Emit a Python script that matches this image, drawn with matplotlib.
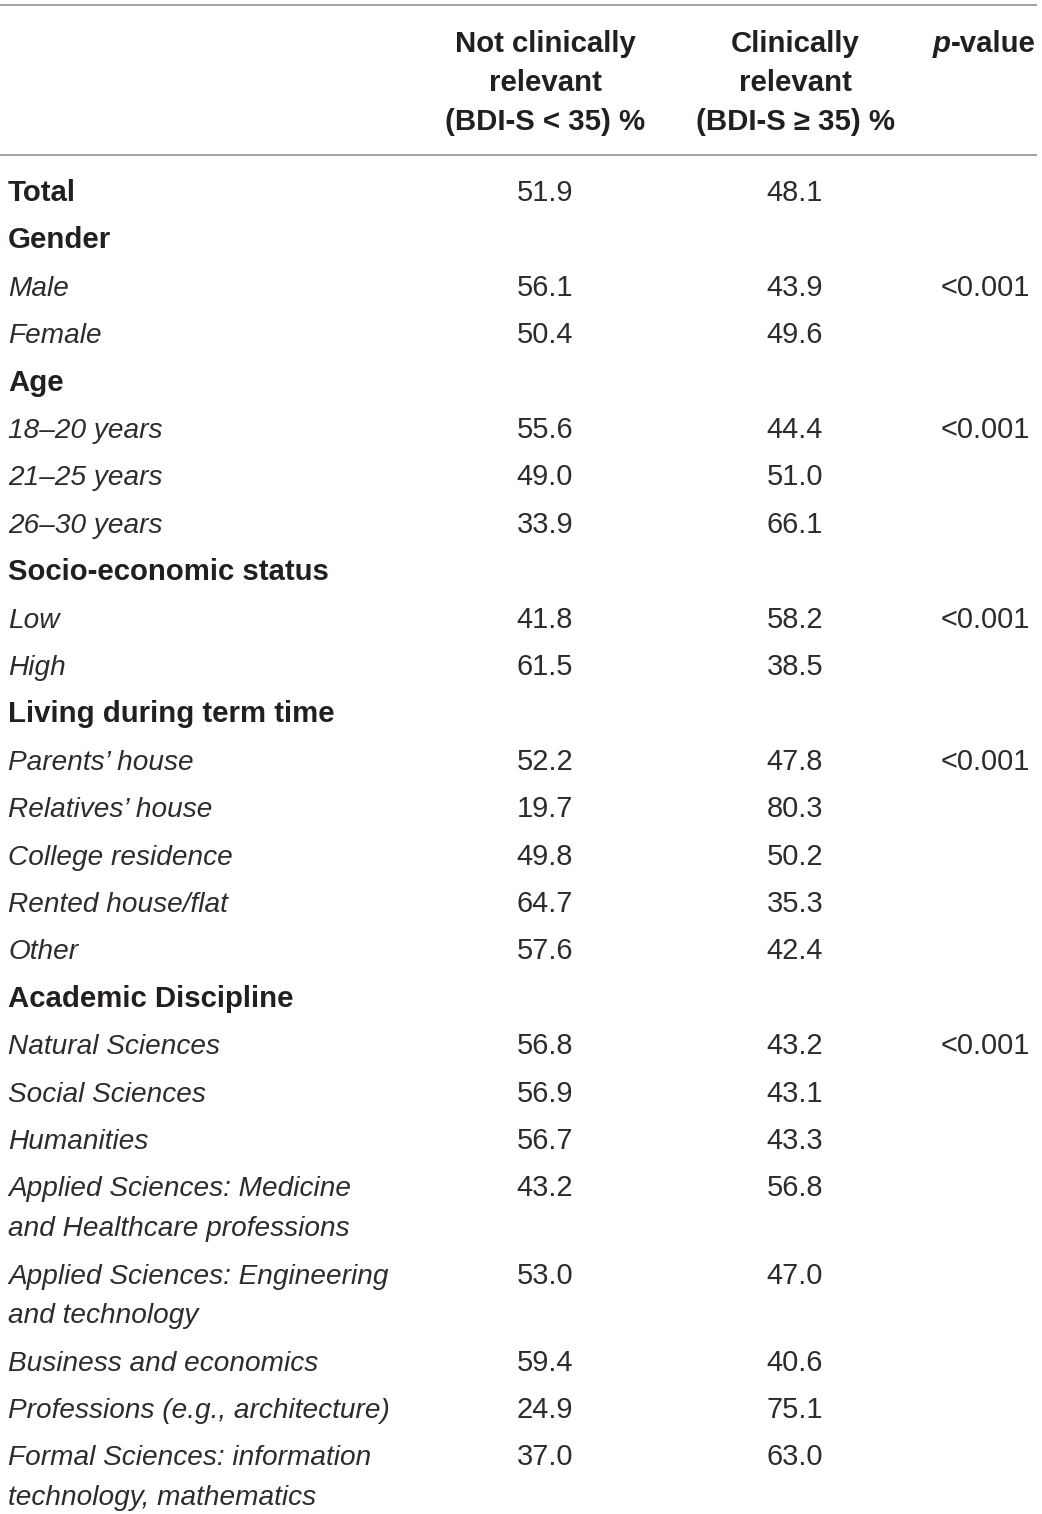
import matplotlib
matplotlib.use("Agg")
import matplotlib.pyplot as plt

# ---- data ----
row_labels = [
    "Total", "Gender", "Male", "Female", "Age", "18–20 years", "21–25 years",
    "26–30 years", "Socio-economic status", "Low", "High",
    "Living during term time", "Parents’ house", "Relatives’ house",
    "College residence", "Rented house/flat", "Other", "Academic Discipline",
    "Natural Sciences", "Social Sciences", "Humanities",
    "Applied Sciences: Medicine\nand Healthcare professions",
    "Applied Sciences: Engineering\nand technology",
    "Business and economics", "Professions (e.g., architecture)",
    "Formal Sciences: information\ntechnology, mathematics",
]
row_kind = [
    "bold", "bold", "it", "it", "bold", "it", "it", "it", "bold", "it", "it",
    "bold", "it", "it", "it", "it", "it", "bold", "it", "it", "it", "it", "it",
    "it", "it", "it",
]
not_clinical = [
    "51.9", "", "56.1", "50.4", "", "55.6", "49.0", "33.9", "", "41.8", "61.5",
    "", "52.2", "19.7", "49.8", "64.7", "57.6", "", "56.8", "56.9", "56.7",
    "43.2", "53.0", "59.4", "24.9", "37.0",
]
clinical = [
    "48.1", "", "43.9", "49.6", "", "44.4", "51.0", "66.1", "", "58.2", "38.5",
    "", "47.8", "80.3", "50.2", "35.3", "42.4", "", "43.2", "43.1", "43.3",
    "56.8", "47.0", "40.6", "75.1", "63.0",
]
p_values = [
    "", "", "<0.001", "", "", "<0.001", "", "", "", "<0.001", "",
    "", "<0.001", "", "", "", "", "", "<0.001", "", "", "", "", "", "", "",
]
header_col1 = ["Not clinically", "relevant", "(BDI-S < 35) %"]
header_col2 = ["Clinically", "relevant", "(BDI-S ≥ 35) %"]

# ---- layout ----
W, H = 1042, 1514
fig = plt.figure(figsize=(W / 100, H / 100), dpi=100)
ax = fig.add_axes([0, 0, 1, 1])
ax.set_xlim(0, W)
ax.set_ylim(H, 0)
ax.axis("off")

FAM = ["Liberation Sans", "DejaVu Sans"]
FS_B = 21.2
FS_N = 20.9
FS_I = 20.2
TXT = "#231f20"
TXT_L = "#2e2b2c"
LINE = "#9a9a9a"

x_lab = 8
x_c1 = 545
x_c2 = 795
x_p = 1030

ax.plot([0, 1037], [5, 5], color=LINE, lw=1.3, solid_capstyle="butt")
ax.plot([0, 1037], [155, 155], color=LINE, lw=1.3, solid_capstyle="butt")

hdr_base = [52, 91, 130]
for i in range(3):
    ax.text(x_c1, hdr_base[i], header_col1[i], ha="center", va="baseline",
            fontsize=FS_B, fontweight="bold", family=FAM, color=TXT)
    ax.text(x_c2, hdr_base[i], header_col2[i], ha="center", va="baseline",
            fontsize=FS_B, fontweight="bold", family=FAM, color=TXT)

t_val = ax.text(1036, hdr_base[0], "-value", ha="right", va="baseline",
                fontsize=FS_B, fontweight="bold", family=FAM, color=TXT)
fig.canvas.draw()
r = fig.canvas.get_renderer()
bb = t_val.get_window_extent(r)
x_left = ax.transData.inverted().transform((bb.x0, bb.y0))[0]
ax.text(x_left, hdr_base[0], "p", ha="right", va="baseline", fontsize=FS_B,
        fontweight="bold", fontstyle="italic", family=FAM, color=TXT)

y = 190.0
step = 47.4
line_gap = 39.5
for lab, kind, a, b, p in zip(row_labels, row_kind, not_clinical, clinical, p_values):
    base = y + 11
    if kind == "bold":
        ax.text(x_lab, base, lab, ha="left", va="baseline", fontsize=FS_B,
                fontweight="bold", family=FAM, color=TXT)
    else:
        for k, part in enumerate(lab.split("\n")):
            ax.text(x_lab, base + k * line_gap, part, ha="left", va="baseline",
                    fontsize=FS_I, fontstyle="italic", family=FAM, color=TXT_L)
    if a:
        ax.text(x_c1, base, a, ha="center", va="baseline", fontsize=FS_N,
                family=FAM, color=TXT_L)
    if b:
        ax.text(x_c2, base, b, ha="center", va="baseline", fontsize=FS_N,
                family=FAM, color=TXT_L)
    if p:
        ax.text(x_p, base, p, ha="right", va="baseline", fontsize=FS_N,
                family=FAM, color=TXT_L)
    nlines = lab.count("\n") + 1
    y += step if nlines == 1 else step + line_gap + 0.2

fig.savefig("out.png", dpi=100, facecolor="white")
